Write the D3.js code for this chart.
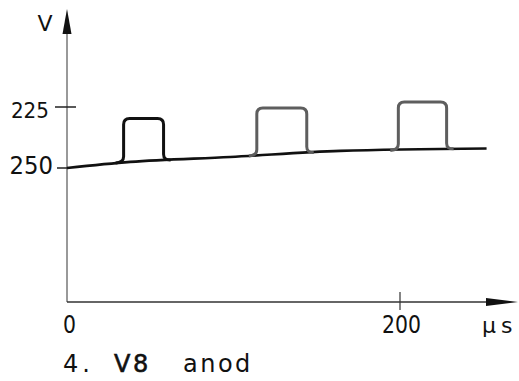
<!DOCTYPE html>
<html>
<head>
<meta charset="utf-8">
<script src="https://cdn.jsdelivr.net/npm/d3@7"></script>
<style>
  body { margin: 0; background: #fff; }
  text { font-family: "DejaVu Sans", sans-serif; fill: #111; }
</style>
</head>
<body>
<div id="chart"></div>
<script>
// data
var xTicks = [0, 200];
var xTickLabels = ["0", "200"];
var yTicks = [225, 250];
var yTickLabels = ["225", "250"];
var baseTimes = [0, 38, 98, 164, 252];
var baseValues = [250, 247.5, 245.5, 243.0, 242.0];
var pulseStart = [34, 114, 199];
var pulseEnd = [58, 144, 228];
var pulseTop = [229.7, 225.4, 223.0];
var pulseColor = ["#111", "#5e5e5e", "#5e5e5e"];
var captionParts = ["4.", "V8", "anod"];

var width = 519, height = 381;

var svg = d3.select("#chart").append("svg")
    .attr("width", width)
    .attr("height", height);

// scales (voltage axis runs downward, as in the drawing)
var x = d3.scaleLinear().domain([0, 200]).range([67, 400]);
var y = d3.scaleLinear().domain([250, 225]).range([168, 107]);

var x0 = x(0), yAxisBottom = 302;

// y axis
svg.append("line")
    .attr("x1", x0).attr("x2", x0)
    .attr("y1", yAxisBottom).attr("y2", 30)
    .attr("stroke", "#555").attr("stroke-width", 1.2);
svg.append("path")
    .attr("d", "M" + (x0 - 4.5) + ",34 L" + x0 + ",9 L" + (x0 + 4.5) + ",34 Z")
    .attr("fill", "#111");
svg.append("text")
    .attr("x", 45).attr("y", 31)
    .attr("text-anchor", "middle")
    .attr("font-size", 22)
    .text("V");

// x axis
svg.append("line")
    .attr("x1", x0).attr("x2", 492)
    .attr("y1", yAxisBottom).attr("y2", yAxisBottom)
    .attr("stroke", "#333").attr("stroke-width", 1.5);
svg.append("path")
    .attr("d", "M486," + (yAxisBottom - 4) + " L518," + yAxisBottom + " L486," + (yAxisBottom + 4) + " Z")
    .attr("fill", "#111");

// y ticks
var yLabelSize = [21, 24];
yTicks.forEach(function(v, i) {
    svg.append("line")
        .attr("x1", i == 0 ? 55 : 57).attr("x2", i == 0 ? 76 : x0)
        .attr("y1", y(v)).attr("y2", y(v))
        .attr("stroke", "#222").attr("stroke-width", 1.5);
    svg.append("text")
        .attr("transform", "translate(" + (i == 0 ? 49 : 53) + "," + (i == 0 ? y(v) + 11 : y(v) + 6) + ") scale(0.95,1)")
        .attr("text-anchor", "end")
        .attr("font-size", yLabelSize[i])
        .text(yTickLabels[i]);
});

// x ticks (narrow lettering)
xTicks.forEach(function(t, i) {
    if (t > 0) {
        svg.append("line")
            .attr("x1", x(t)).attr("x2", x(t))
            .attr("y1", yAxisBottom - 10).attr("y2", yAxisBottom + 8)
            .attr("stroke", "#333").attr("stroke-width", 1.2);
    }
    svg.append("text")
        .attr("transform", "translate(" + (t == 0 ? x(t) + 2.5 : x(t) + 1.5) + ",333) scale(0.85,1)")
        .attr("text-anchor", "middle")
        .attr("font-size", 24)
        .text(xTickLabels[i]);
});
svg.append("text")
    .attr("x", 482).attr("y", 333)
    .attr("font-size", 22)
    .attr("letter-spacing", 5)
    .text("µs");

// caption
var captionX = [63, 114, 183];
captionParts.forEach(function(s, i) {
    svg.append("text")
        .attr("x", captionX[i]).attr("y", 372)
        .attr("font-size", 24)
        .attr("letter-spacing", i == 0 ? 4 : 2.5)
        .attr("stroke", i == 1 ? "#111" : "none")
        .attr("stroke-width", 0.6)
        .text(s);
});

// baseline
var baseAt = function(t) {
    return d3.scaleLinear().domain(baseTimes).range(baseValues)(t);
};
var line = d3.line()
    .x(function(d) { return x(d[0]); })
    .y(function(d) { return y(d[1]); })
    .curve(d3.curveMonotoneX);

svg.append("path")
    .datum(baseTimes.map(function(t, i) { return [t, baseValues[i]]; }))
    .attr("d", line)
    .attr("fill", "none")
    .attr("stroke", "#111")
    .attr("stroke-width", 2.6);

// pulses with rounded corners
var r = 6;
pulseStart.forEach(function(s, i) {
    var xa = x(s), xb = x(pulseEnd[i]);
    var ya = y(baseAt(s)), yb = y(baseAt(pulseEnd[i]));
    var yt = y(pulseTop[i]);
    var p = d3.path();
    p.moveTo(xa - 8, ya + 0.5);
    p.quadraticCurveTo(xa, ya, xa, ya - r);
    p.lineTo(xa, yt + r);
    p.quadraticCurveTo(xa, yt, xa + r, yt);
    p.lineTo(xb - r, yt);
    p.quadraticCurveTo(xb, yt, xb, yt + r);
    p.lineTo(xb, yb - r);
    p.quadraticCurveTo(xb, yb, xb + 7, yb - 0.3);
    svg.append("path")
        .attr("d", p.toString())
        .attr("fill", "none")
        .attr("stroke", pulseColor[i])
        .attr("stroke-width", 3)
        .attr("stroke-linejoin", "round");
});
</script>
</body>
</html>
